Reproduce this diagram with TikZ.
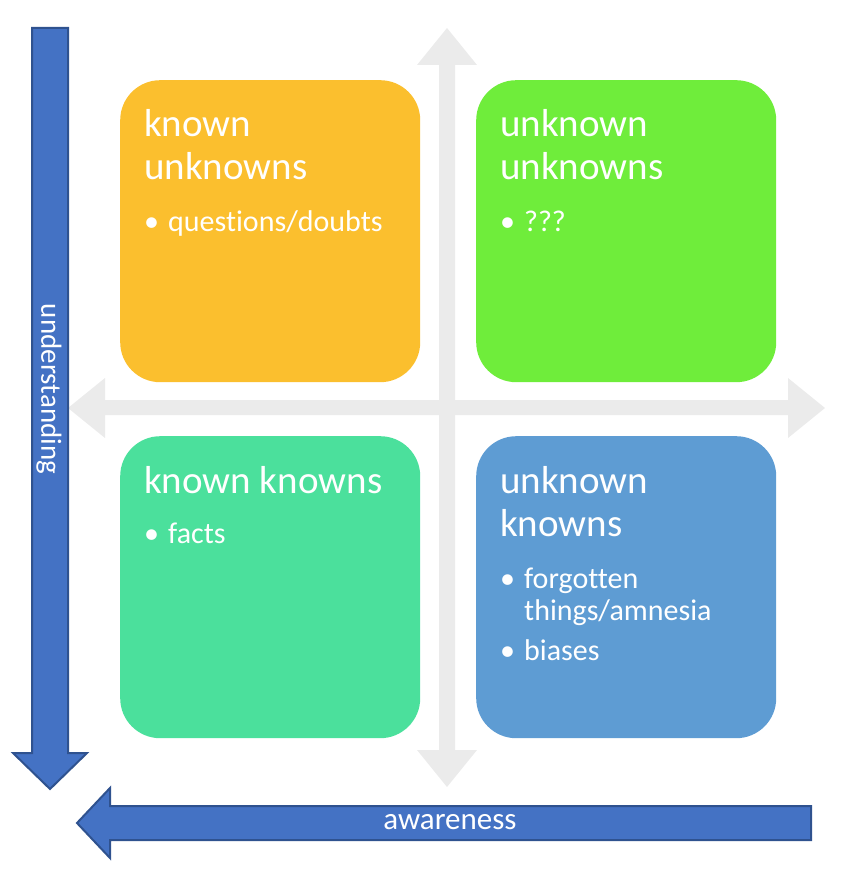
\documentclass[tikz,border=0pt]{standalone}
\usepackage{fontspec}
\setmainfont{Carlito}[Ligatures={NoCommon,NoContextual}]
\definecolor{cOrange}{HTML}{FBBF2E}
\definecolor{cLime}{HTML}{6FED3B}
\definecolor{cTeal}{HTML}{4BE09C}
\definecolor{cSky}{HTML}{5E9CD3}
\definecolor{cCross}{HTML}{EBEBEB}
\definecolor{cArrow}{HTML}{4472C4}
\definecolor{cArrowLine}{HTML}{2F528F}
\begin{document}
\begin{tikzpicture}[x=1pt,y=-1pt,
  quad/.style={rounded corners=40pt, minimum width=300pt, minimum height=302pt, inner sep=0pt, anchor=north west},
  bigarrow/.style={fill=cArrow, draw=cArrowLine, line width=2pt, line join=miter},
  crossarrow/.style={fill=cCross},
  qtitle/.style={text=white, anchor=base west, inner sep=0pt, font=\fontsize{39}{43}\selectfont},
  qitem/.style={text=white, anchor=base west, inner sep=0pt, font=\fontsize{30}{32}\selectfont},
  axislabel/.style={text=white, inner sep=0pt, font=\fontsize{31}{34}\selectfont}
]
\useasboundingbox (0,0) rectangle (848,874);
% quadrant boxes
\node[quad, fill=cOrange] (ku) at (120,80) {};
\node[quad, fill=cLime] (uu) at (476,80) {};
\node[quad, fill=cTeal] (kk) at (120,436) {};
\node[quad, fill=cSky] (uk) at (476,436) {};
% cross arrows
\fill[crossarrow] (439,65) -- (417,65) -- (447,28) -- (477,65) -- (455,65)
  -- (455,750) -- (477,750) -- (447,787) -- (417,750) -- (439,750) -- cycle;
\fill[crossarrow] (105,400) -- (105,378) -- (68,408) -- (105,438) -- (105,415)
  -- (788,415) -- (788,438) -- (825,408) -- (788,378) -- (788,400) -- cycle;
% left understanding arrow
\draw[bigarrow] (32,28) -- (68,28) -- (68,753) -- (87,753) -- (50,789) -- (13,753) -- (32,753) -- cycle;
\coordinate (undc) at (49,389);
\node[axislabel, rotate=-90, font=\fontsize{29}{32}\selectfont] (und) at (undc) {understanding};
% bottom awareness arrow
\draw[bigarrow] (811,806) -- (811,840) -- (110,840) -- (110,858) -- (77,823) -- (110,788) -- (110,806) -- cycle;
\coordinate (awc) at (450,822);
\node[axislabel] (aw) at (awc) {awareness};
% texts: known unknowns
\node[qtitle] (kut1) at ([shift={(24,57)}]ku.north west) {known};
\node[qtitle] (kut2) at ([shift={(24,100)}]ku.north west) {unknowns};
\node[qitem] (kui) at ([shift={(24,152)}]ku.north west) {\makebox[24pt][l]{•}questions/doubts};
% unknown unknowns
\node[qtitle] (uut1) at ([shift={(24,57)}]uu.north west) {unknown};
\node[qtitle] (uut2) at ([shift={(24,100)}]uu.north west) {unknowns};
\node[qitem] (uui) at ([shift={(24,152)}]uu.north west) {\makebox[24pt][l]{•}???};
% known knowns
\node[qtitle] (kkt) at ([shift={(24,57)}]kk.north west) {known knowns};
\node[qitem] (kki) at ([shift={(24,107)}]kk.north west) {\makebox[24pt][l]{•}facts};
% unknown knowns
\node[qtitle] (ukt1) at ([shift={(24,57)}]uk.north west) {unknown};
\node[qtitle] (ukt2) at ([shift={(24,100)}]uk.north west) {knowns};
\node[qitem] (uki1) at ([shift={(24,152)}]uk.north west) {\makebox[24pt][l]{•}forgotten};
\node[qitem] (uki2) at ([shift={(48,184)}]uk.north west) {things/amnesia};
\node[qitem] (ukj) at ([shift={(24,224)}]uk.north west) {\makebox[24pt][l]{•}biases};
\end{tikzpicture}
\end{document}
